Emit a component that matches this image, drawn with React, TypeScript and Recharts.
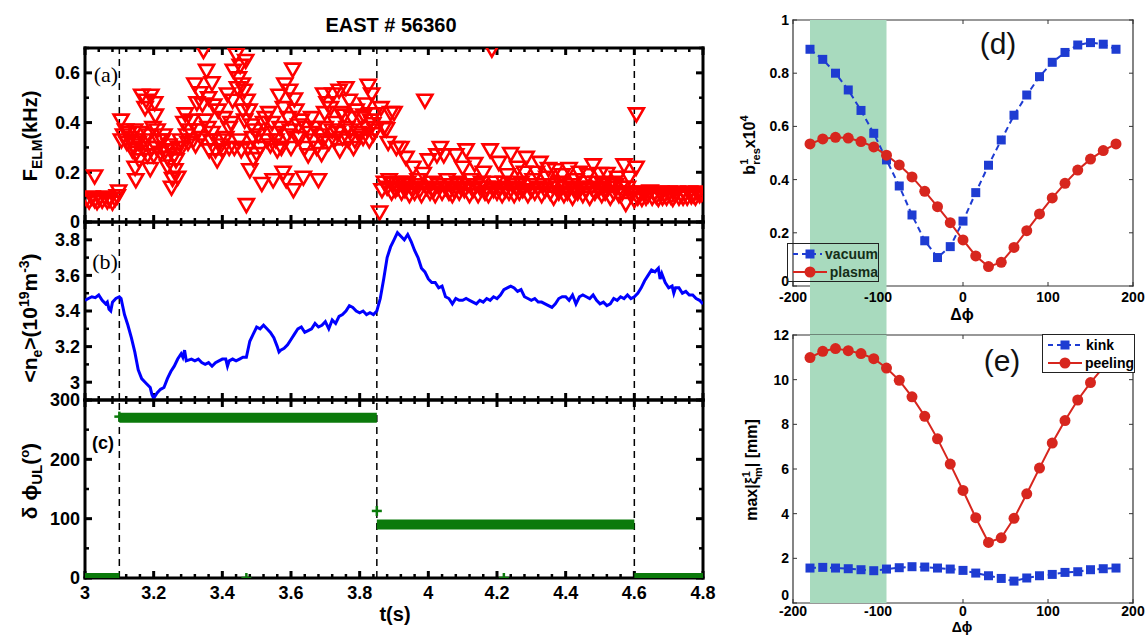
import React from 'react';
import {
  ScatterChart,
  Scatter,
  LineChart,
  Line,
  XAxis,
  YAxis,
  ReferenceLine,
  ReferenceArea,
  ReferenceDot,
  Legend,
} from 'recharts';

const FONT = '"Liberation Sans", Arial, "DejaVu Sans", sans-serif';
const BAND = '#a8dabe';
const RED = '#d7261e';
const BLUE = '#1e3cd2';
const GREEN = '#0b7a0b';

// (a) ELM frequency in kHz, one triangle per ELM: [t (s), f (kHz)]
const elmPoints: [number, number][] = [
  [3.005, 0.095], [3.012, 0.085], [3.02, 0.1], [3.028, 0.09], [3.035, 0.082], [3.042, 0.095], [3.05, 0.088],
  [3.058, 0.1], [3.065, 0.085], [3.072, 0.092], [3.08, 0.08], [3.088, 0.095], [3.094, 0.105], [3.028, 0.185], [3.098, 0.125],
  [3.105, 0.41], [3.106, 0.33], [3.112, 0.35], [3.118, 0.37], [3.122, 0.32], [3.128, 0.36], [3.134, 0.34], [3.14, 0.31],
  [3.145, 0.37], [3.15, 0.28], [3.152, 0.33], [3.158, 0.25], [3.16, 0.36], [3.165, 0.51], [3.168, 0.3], [3.172, 0.33],
  [3.175, 0.46], [3.178, 0.49], [3.182, 0.27], [3.185, 0.35], [3.19, 0.215], [3.192, 0.51], [3.195, 0.3], [3.198, 0.38],
  [3.2, 0.27], [3.203, 0.48], [3.205, 0.43], [3.146, 0.22], [3.148, 0.17], [3.155, 0.32], [3.138, 0.29],
  [3.208, 0.3], [3.21, 0.37], [3.215, 0.33], [3.22, 0.28], [3.225, 0.33], [3.23, 0.35], [3.235, 0.29], [3.24, 0.26],
  [3.245, 0.31], [3.25, 0.29], [3.252, 0.14], [3.255, 0.175], [3.26, 0.27], [3.265, 0.25], [3.27, 0.18], [3.272, 0.3],
  [3.278, 0.33], [3.282, 0.3], [3.288, 0.4], [3.292, 0.435], [3.296, 0.35], [3.3, 0.32], [3.24, 0.225], [3.262, 0.21],
  [3.305, 0.37], [3.31, 0.41], [3.315, 0.33], [3.32, 0.555], [3.322, 0.31], [3.326, 0.48], [3.33, 0.37], [3.335, 0.52],
  [3.338, 0.34], [3.342, 0.475], [3.345, 0.69], [3.35, 0.41], [3.354, 0.61], [3.358, 0.38], [3.362, 0.29], [3.366, 0.33],
  [3.37, 0.36], [3.375, 0.47], [3.38, 0.29], [3.385, 0.25], [3.388, 0.45], [3.392, 0.33], [3.396, 0.31], [3.4, 0.29],
  [3.37, 0.56], [3.36, 0.5],
  [3.405, 0.42], [3.41, 0.34], [3.415, 0.515], [3.42, 0.38], [3.425, 0.4], [3.43, 0.49], [3.432, 0.61], [3.435, 0.3],
  [3.44, 0.675], [3.444, 0.54], [3.447, 0.58], [3.45, 0.33], [3.452, 0.63], [3.455, 0.29], [3.458, 0.555], [3.46, 0.45],
  [3.464, 0.53], [3.468, 0.65], [3.47, 0.07], [3.472, 0.49], [3.475, 0.3], [3.478, 0.45], [3.48, 0.21], [3.485, 0.39],
  [3.49, 0.255], [3.495, 0.37], [3.5, 0.275], [3.42, 0.3], [3.465, 0.41], [3.488, 0.34],
  [3.505, 0.35], [3.51, 0.3], [3.515, 0.155], [3.52, 0.4], [3.525, 0.42], [3.53, 0.33], [3.535, 0.44], [3.54, 0.31],
  [3.545, 0.4], [3.548, 0.17], [3.552, 0.36], [3.556, 0.33], [3.56, 0.29], [3.565, 0.51], [3.568, 0.38], [3.572, 0.3],
  [3.577, 0.2], [3.578, 0.46], [3.582, 0.555], [3.586, 0.17], [3.588, 0.35], [3.592, 0.42], [3.596, 0.53], [3.598, 0.37],
  [3.6, 0.3],
  [3.605, 0.615], [3.607, 0.13], [3.61, 0.495], [3.614, 0.45], [3.618, 0.34], [3.622, 0.39], [3.626, 0.34], [3.63, 0.41],
  [3.636, 0.18], [3.64, 0.3], [3.645, 0.38], [3.65, 0.27], [3.655, 0.36], [3.66, 0.42], [3.665, 0.33], [3.67, 0.38],
  [3.675, 0.3], [3.68, 0.17], [3.684, 0.35], [3.689, 0.275], [3.693, 0.33], [3.695, 0.515], [3.698, 0.44], [3.7, 0.38],
  [3.705, 0.48], [3.71, 0.32], [3.715, 0.46], [3.72, 0.37], [3.722, 0.515], [3.726, 0.33], [3.73, 0.4], [3.735, 0.36],
  [3.74, 0.53], [3.742, 0.29], [3.746, 0.44], [3.75, 0.34], [3.755, 0.43], [3.76, 0.54], [3.763, 0.38], [3.767, 0.33],
  [3.77, 0.49], [3.773, 0.37], [3.778, 0.42], [3.782, 0.3], [3.786, 0.33], [3.79, 0.45], [3.795, 0.36], [3.8, 0.35],
  [3.805, 0.42], [3.81, 0.34], [3.812, 0.43], [3.818, 0.475], [3.82, 0.38], [3.825, 0.55], [3.828, 0.33], [3.832, 0.41],
  [3.835, 0.515], [3.838, 0.395], [3.84, 0.355], [3.843, 0.435], [3.845, 0.37], [3.858, 0.04],
  [3.862, 0.46], [3.865, 0.13], [3.87, 0.38], [3.872, 0.16], [3.878, 0.375], [3.88, 0.14], [3.883, 0.32], [3.886, 0.17],
  [3.89, 0.44], [3.893, 0.12], [3.898, 0.155], [3.9, 0.44], [3.904, 0.13], [3.907, 0.3], [3.91, 0.14], [3.915, 0.16],
  [3.92, 0.3], [3.922, 0.12], [3.928, 0.15], [3.932, 0.13], [3.935, 0.26], [3.94, 0.16], [3.945, 0.11], [3.95, 0.14],
  [3.955, 0.22], [3.96, 0.12],
  [3.965, 0.15], [3.97, 0.17], [3.975, 0.13], [3.98, 0.11], [3.985, 0.195], [3.99, 0.49], [3.995, 0.14], [4.0, 0.25],
  [4.005, 0.12], [4.01, 0.16], [4.015, 0.13], [4.02, 0.11], [4.025, 0.27], [4.03, 0.15], [4.035, 0.3], [4.04, 0.12],
  [4.045, 0.27], [4.05, 0.14], [4.055, 0.17], [4.06, 0.12], [4.065, 0.15], [4.07, 0.11], [4.075, 0.13], [4.08, 0.27],
  [4.085, 0.16], [4.09, 0.12], [4.095, 0.14], [4.1, 0.22], [4.105, 0.13], [4.11, 0.29], [4.115, 0.15], [4.12, 0.11],
  [4.125, 0.17], [4.13, 0.13], [4.135, 0.235], [4.14, 0.15], [4.145, 0.11], [4.15, 0.14], [4.155, 0.16], [4.16, 0.2],
  [4.165, 0.12], [4.17, 0.14], [4.175, 0.11], [4.18, 0.29], [4.185, 0.695], [4.19, 0.13], [4.195, 0.16], [4.2, 0.12],
  [4.205, 0.24], [4.21, 0.14], [4.215, 0.11], [4.22, 0.16], [4.225, 0.13], [4.23, 0.19], [4.235, 0.12], [4.24, 0.275],
  [4.245, 0.15], [4.25, 0.11], [4.255, 0.14], [4.26, 0.22], [4.265, 0.12], [4.27, 0.16], [4.275, 0.13], [4.28, 0.2],
  [4.285, 0.26], [4.29, 0.11], [4.295, 0.15], [4.3, 0.13], [4.305, 0.17], [4.31, 0.12], [4.315, 0.2], [4.32, 0.14],
  [4.325, 0.24], [4.33, 0.11], [4.335, 0.15], [4.34, 0.13], [4.345, 0.18], [4.35, 0.215], [4.355, 0.12], [4.36, 0.15],
  [4.365, 0.1], [4.37, 0.21], [4.375, 0.14], [4.38, 0.12], [4.385, 0.16], [4.39, 0.19], [4.395, 0.11], [4.4, 0.14],
  [4.405, 0.12], [4.41, 0.215], [4.415, 0.15], [4.42, 0.1], [4.425, 0.13], [4.43, 0.17], [4.435, 0.12], [4.44, 0.2],
  [4.445, 0.14], [4.45, 0.11], [4.455, 0.16], [4.46, 0.13], [4.465, 0.19], [4.47, 0.1], [4.475, 0.14], [4.48, 0.23],
  [4.485, 0.12], [4.49, 0.16], [4.495, 0.13], [4.5, 0.195], [4.505, 0.11], [4.51, 0.15], [4.515, 0.12], [4.52, 0.195],
  [4.525, 0.14], [4.53, 0.1], [4.535, 0.16], [4.54, 0.12], [4.545, 0.15], [4.55, 0.18], [4.555, 0.11], [4.56, 0.14],
  [4.565, 0.12], [4.57, 0.23], [4.575, 0.075], [4.58, 0.14], [4.585, 0.18], [4.59, 0.11], [4.595, 0.12], [4.6, 0.09],
  [4.605, 0.22], [4.606, 0.435],
  [4.61, 0.1], [4.616, 0.11], [4.622, 0.095], [4.628, 0.12], [4.634, 0.1], [4.64, 0.11], [4.646, 0.125], [4.652, 0.1],
  [4.658, 0.115], [4.664, 0.105], [4.67, 0.095], [4.676, 0.12], [4.682, 0.1], [4.688, 0.11], [4.694, 0.1], [4.7, 0.12],
  [4.706, 0.105], [4.712, 0.095], [4.718, 0.11], [4.724, 0.12], [4.73, 0.1], [4.736, 0.11], [4.742, 0.1], [4.748, 0.115],
  [4.754, 0.1], [4.76, 0.12], [4.766, 0.105], [4.772, 0.11], [4.778, 0.1], [4.784, 0.12], [4.79, 0.11], [4.796, 0.115],
];

// (b) line-averaged density, 1e19 m^-3: [t (s), <ne>]
const densityTrace: [number, number][] = [
  [3.0, 3.46], [3.01, 3.47], [3.02, 3.48], [3.03, 3.475], [3.04, 3.49], [3.05, 3.46], [3.06, 3.44], [3.065, 3.45],
  [3.07, 3.41], [3.075, 3.4], [3.08, 3.45], [3.09, 3.47], [3.1, 3.48], [3.105, 3.47], [3.115, 3.38], [3.125, 3.32],
  [3.135, 3.25], [3.145, 3.17], [3.155, 3.07], [3.165, 3.02], [3.175, 3.0], [3.185, 2.98], [3.19, 2.97], [3.195, 2.93],
  [3.2, 2.91], [3.21, 2.94], [3.22, 2.96], [3.23, 2.97], [3.24, 3.02], [3.25, 3.06], [3.26, 3.09], [3.27, 3.13],
  [3.28, 3.16], [3.285, 3.14], [3.29, 3.18], [3.295, 3.12], [3.31, 3.13], [3.32, 3.12], [3.33, 3.13], [3.34, 3.11],
  [3.35, 3.1], [3.36, 3.11], [3.37, 3.09], [3.38, 3.11], [3.39, 3.12], [3.4, 3.13], [3.41, 3.13], [3.415, 3.09],
  [3.42, 3.12], [3.43, 3.13], [3.44, 3.12], [3.45, 3.13], [3.46, 3.14], [3.47, 3.14], [3.48, 3.23], [3.49, 3.27],
  [3.5, 3.31], [3.51, 3.3], [3.52, 3.32], [3.53, 3.3], [3.54, 3.28], [3.55, 3.25], [3.56, 3.2], [3.565, 3.17],
  [3.57, 3.18], [3.58, 3.19], [3.59, 3.21], [3.6, 3.24], [3.61, 3.27], [3.62, 3.3], [3.63, 3.31], [3.64, 3.28],
  [3.65, 3.29], [3.66, 3.3], [3.67, 3.33], [3.68, 3.31], [3.69, 3.32], [3.7, 3.34], [3.71, 3.3], [3.72, 3.35],
  [3.73, 3.33], [3.74, 3.37], [3.75, 3.38], [3.76, 3.4], [3.77, 3.43], [3.78, 3.42], [3.79, 3.4], [3.8, 3.39],
  [3.81, 3.4], [3.82, 3.38], [3.83, 3.39], [3.84, 3.38], [3.85, 3.4], [3.86, 3.47], [3.87, 3.58], [3.88, 3.7],
  [3.89, 3.76], [3.9, 3.8], [3.91, 3.84], [3.92, 3.82], [3.93, 3.8], [3.94, 3.83], [3.95, 3.79], [3.96, 3.74],
  [3.97, 3.7], [3.98, 3.64], [3.99, 3.62], [4.0, 3.58], [4.01, 3.56], [4.02, 3.56], [4.03, 3.53], [4.04, 3.54],
  [4.05, 3.48], [4.06, 3.47], [4.07, 3.44], [4.08, 3.47], [4.09, 3.46], [4.1, 3.46], [4.11, 3.47], [4.12, 3.46],
  [4.13, 3.45], [4.14, 3.44], [4.15, 3.46], [4.16, 3.45], [4.17, 3.47], [4.18, 3.46], [4.19, 3.48], [4.2, 3.47],
  [4.21, 3.49], [4.22, 3.52], [4.23, 3.53], [4.24, 3.54], [4.25, 3.53], [4.26, 3.51], [4.27, 3.52], [4.28, 3.48],
  [4.29, 3.47], [4.3, 3.46], [4.31, 3.47], [4.32, 3.45], [4.33, 3.45], [4.34, 3.44], [4.35, 3.43], [4.36, 3.42],
  [4.37, 3.44], [4.38, 3.47], [4.39, 3.48], [4.4, 3.48], [4.41, 3.46], [4.42, 3.49], [4.43, 3.44], [4.44, 3.48],
  [4.45, 3.49], [4.46, 3.48], [4.47, 3.47], [4.48, 3.49], [4.49, 3.46], [4.5, 3.44], [4.51, 3.45], [4.52, 3.43],
  [4.53, 3.44], [4.54, 3.47], [4.55, 3.46], [4.56, 3.48], [4.57, 3.47], [4.58, 3.49], [4.59, 3.47], [4.6, 3.48],
  [4.61, 3.5], [4.62, 3.53], [4.63, 3.57], [4.64, 3.6], [4.65, 3.63], [4.66, 3.62], [4.67, 3.64], [4.675, 3.58],
  [4.68, 3.61], [4.69, 3.56], [4.7, 3.53], [4.71, 3.54], [4.715, 3.5], [4.72, 3.53], [4.73, 3.53], [4.74, 3.5],
  [4.75, 3.51], [4.76, 3.49], [4.77, 3.49], [4.78, 3.47], [4.79, 3.46], [4.8, 3.44],
];

// (c) upper/lower coil phase difference (deg), piecewise constant
const switchTimes = [3.0, 3.1, 3.85, 4.6, 4.8];
const phaseLevels = [0, 270, 90, 0];
const phaseStray: [number, number][] = [[3.1, 272], [3.47, 0], [4.22, 0], [3.85, 113]];
const markerTimes = [3.1, 3.85, 4.6];

// (d), (e) scans over the coil phase difference
const dphi = [-180, -165, -150, -135, -120, -105, -90, -75, -60, -45, -30, -15, 0, 15, 30, 45, 60, 75, 90, 105, 120, 135, 150, 165, 180];
const vacuumRes = [0.89, 0.852, 0.8, 0.737, 0.66, 0.574, 0.474, 0.376, 0.267, 0.17, 0.107, 0.148, 0.244, 0.351, 0.454, 0.549, 0.642, 0.718, 0.787, 0.841, 0.878, 0.906, 0.915, 0.909, 0.89];
const plasmaRes = [0.534, 0.553, 0.559, 0.556, 0.543, 0.523, 0.492, 0.455, 0.41, 0.356, 0.298, 0.238, 0.173, 0.113, 0.073, 0.089, 0.145, 0.208, 0.271, 0.331, 0.386, 0.436, 0.477, 0.509, 0.534];
const kinkDisp = [1.565, 1.595, 1.565, 1.535, 1.49, 1.446, 1.52, 1.58, 1.625, 1.61, 1.565, 1.52, 1.46, 1.34, 1.22, 1.1, 0.98, 1.12, 1.22, 1.28, 1.37, 1.4, 1.49, 1.535, 1.565];
const peelingDisp = [10.99, 11.27, 11.39, 11.3, 11.17, 10.94, 10.52, 9.97, 9.23, 8.36, 7.35, 6.22, 5.04, 3.82, 2.71, 2.92, 3.79, 4.89, 6.04, 7.16, 8.17, 9.09, 9.87, 10.55, 11.0];
const bandRange = [-180, -90];
const namesD = ['vacuum', 'plasma'];
const namesE = ['kink', 'peeling'];

const elmData = elmPoints.map(([t, f]) => ({ t, f }));
const densityData = densityTrace.map(([t, v]) => ({ t, v }));
const phaseSegments = phaseLevels.map((v, i) => [
  { t: switchTimes[i], v },
  { t: switchTimes[i + 1], v },
]);
const strayData = phaseStray.map(([t, v]) => ({ t, v }));
const dData = dphi.map((phi, i) => ({ phi, vac: vacuumRes[i], pla: plasmaRes[i] }));
const eData = dphi.map((phi, i) => ({ phi, kink: kinkDisp[i], peel: peelingDisp[i] }));

const seq = (a: number, b: number, s: number) =>
  Array.from({ length: Math.round((b - a) / s) + 1 }, (_, i) => +(a + i * s).toFixed(3));
const onGrid = (v: number, s: number) => Math.abs(v / s - Math.round(v / s)) < 1e-6;
const fmt = (v: number) => String(+v.toFixed(2));

const TIME_DOM: [number, number] = [3, 4.8];
const PHI_DOM: [number, number] = [-200, 200];
const timeTicks = seq(3, 4.8, 0.04);
const phiTicks = [-200, -100, 0, 100, 200];

// tick labels only; the marks themselves are drawn by frameTicks()
const labelTick = (
  side: 'bottom' | 'left',
  show: (v: number) => boolean,
  size: number,
  gap: number,
  lift: (v: number) => number = () => 0,
) => (p: any) => {
  const { x, y, payload } = p;
  const v = payload.value as number;
  if (!show(v)) return <g />;
  return side === 'bottom' ? (
    <text x={x} y={y + gap} textAnchor="middle" fontFamily={FONT} fontWeight="bold" fontSize={size} fill="#000">{fmt(v)}</text>
  ) : (
    <text x={x - gap} y={y + size * 0.36 - lift(v)} textAnchor="end" fontFamily={FONT} fontWeight="bold" fontSize={size} fill="#000">{fmt(v)}</text>
  );
};

interface FrameCfg {
  xDom: [number, number];
  yDom: [number, number];
  xTicks: number[];
  yTicks: number[];
  xMajor: (v: number) => boolean;
  yMajor: (v: number) => boolean;
  len: [number, number];
  w: [number, number];
  color: string;
  frameW: number;
}

// box frame with inward ticks on all four sides (matlab "box on")
function frameTicks(o: FrameCfg) {
  const out: React.ReactElement[] = [];
  const mark = (key: string, x: number, y: number, dx: number, dy: number, sw: number) => (
    <ReferenceDot
      key={key}
      x={x}
      y={y}
      ifOverflow="visible"
      zIndex={0}
      shape={(p: any) => <line x1={p.cx} y1={p.cy} x2={p.cx + dx} y2={p.cy + dy} stroke={o.color} strokeWidth={sw} />}
    />
  );
  const edge = { stroke: o.color, strokeWidth: o.frameW, strokeLinecap: 'square' as const, ifOverflow: 'visible' as const, zIndex: 0 };
  out.push(<ReferenceLine key="fl" x={o.xDom[0]} {...edge} />);
  out.push(<ReferenceLine key="fr" x={o.xDom[1]} {...edge} />);
  out.push(<ReferenceLine key="fb" y={o.yDom[0]} {...edge} />);
  out.push(<ReferenceLine key="ft" y={o.yDom[1]} {...edge} />);
  o.xTicks.forEach((v) => {
    const big = o.xMajor(v);
    const L = big ? o.len[0] : o.len[1];
    const sw = big ? o.w[0] : o.w[1];
    out.push(mark('b' + v, v, o.yDom[0], 0, -L, sw));
    out.push(mark('t' + v, v, o.yDom[1], 0, L, sw));
  });
  o.yTicks.forEach((v) => {
    const big = o.yMajor(v);
    const L = big ? o.len[0] : o.len[1];
    const sw = big ? o.w[0] : o.w[1];
    out.push(mark('l' + v, o.xDom[0], v, L, 0, sw));
    out.push(mark('r' + v, o.xDom[1], v, -L, 0, sw));
  });
  return out;
}

const xMajorTime = (v: number) => onGrid(v, 0.2);

function leftAxes(yKey: string | undefined, yDom: [number, number], yTicks: number[], yMajor: (v: number) => boolean, withTime: boolean) {
  return [
    <XAxis key="xb" dataKey="t" type="number" domain={TIME_DOM} ticks={timeTicks} interval={0} hide={!withTime}
      height={30} tickSize={0} tickMargin={0} axisLine={false} tickLine={false} allowDataOverflow
      tick={labelTick('bottom', xMajorTime, 18, 21)} />,
    <YAxis key="yl" dataKey={yKey} type="number" domain={yDom} ticks={yTicks} interval={0} width={60}
      tickSize={0} tickMargin={0} axisLine={false} tickLine={false} allowDataOverflow
      tick={labelTick('left', yMajor, 18, 5)} />,
    ...frameTicks({
      xDom: TIME_DOM, yDom, xTicks: timeTicks, yTicks, xMajor: xMajorTime, yMajor,
      len: [7, 4], w: [3, 2.5], color: '#000', frameW: 3,
    }),
  ];
}

function rightAxes(yDom: [number, number], yTicks: number[], xGap: number, zeroLift: number) {
  const all = () => true;
  const liftBottom = (v: number) => (v === yDom[0] ? zeroLift : 0);
  return [
    <XAxis key="xb" dataKey="phi" type="number" domain={PHI_DOM} ticks={phiTicks} interval={0} height={30}
      tickSize={0} tickMargin={0} axisLine={false} tickLine={false} allowDataOverflow
      tick={labelTick('bottom', all, 14, xGap)} />,
    <YAxis key="yl" type="number" domain={yDom} ticks={yTicks} interval={0} width={60}
      tickSize={0} tickMargin={0} axisLine={false} tickLine={false} allowDataOverflow
      tick={labelTick('left', all, 14, 4, liftBottom)} />,
    ...frameTicks({
      xDom: PHI_DOM, yDom, xTicks: phiTicks, yTicks, xMajor: all, yMajor: all,
      len: [4, 4], w: [1, 1], color: '#333', frameW: 1.2,
    }),
  ];
}

const refLines = () =>
  markerTimes.map((t) => (
    <ReferenceLine key={'m' + t} x={t} stroke="#000" strokeWidth={1.5} strokeDasharray="7 5" />
  ));

const DownTri = (p: any) => {
  const { cx, cy } = p;
  if (cx == null || cy == null) return <g />;
  return (
    <path d={`M${cx - 7.5},${cy - 5.5}L${cx + 7.5},${cy - 5.5}L${cx},${cy + 7.5}Z`} fill="none" stroke="#ff0000" strokeWidth={2.6} />
  );
};

const PlusDot = (p: any) => {
  const { cx, cy, index } = p;
  if (cx == null || cy == null) return <g key={index} />;
  return (
    <g key={index}>
      <line x1={cx - 5} y1={cy} x2={cx + 5} y2={cy} stroke={GREEN} strokeWidth={2.5} />
      <line x1={cx} y1={cy - 5} x2={cx} y2={cy + 5} stroke={GREEN} strokeWidth={2.5} />
    </g>
  );
};

const SquareDot = (p: any) => {
  const { cx, cy, index } = p;
  if (cx == null || cy == null) return <g key={index} />;
  return <rect key={index} x={cx - 4.5} y={cy - 4.5} width={9} height={9} fill={BLUE} />;
};

const RoundDot = (p: any) => {
  const { cx, cy, index } = p;
  if (cx == null || cy == null) return <g key={index} />;
  return <circle key={index} cx={cx} cy={cy} r={5.5} fill={RED} />;
};

function LegendBox({ names, bg, textColor }: { names: string[]; bg: string; textColor: string }) {
  const styles = [
    { color: BLUE, dash: '5 4', shape: 'square' },
    { color: RED, dash: undefined, shape: 'circle' },
  ];
  return (
    <div
      style={{
        boxSizing: 'border-box', width: '100%', height: '100%', border: '1px solid #222', background: bg,
        padding: '1px 0 0 4px', fontFamily: FONT, fontWeight: 'bold', fontSize: 14, color: textColor, whiteSpace: 'nowrap',
      }}
    >
      {names.map((n, i) => (
        <div key={n} style={{ display: 'flex', alignItems: 'center', height: 18 }}>
          <svg width={36} height={14}>
            <line x1={1} y1={7} x2={35} y2={7} stroke={styles[i].color} strokeWidth={2} strokeDasharray={styles[i].dash} />
            {styles[i].shape === 'square' ? (
              <rect x={13.5} y={2.5} width={9} height={9} fill={styles[i].color} />
            ) : (
              <circle cx={18} cy={7} r={5.5} fill={styles[i].color} />
            )}
          </svg>
          <span style={{ marginLeft: 3 }}>{n}</span>
        </div>
      ))}
    </div>
  );
}

export default function App() {
  const txt = { fontFamily: FONT, fontWeight: 'bold' as const, fill: '#000' };
  return (
    <div style={{ position: 'fixed', left: 0, top: 0, width: 1148, height: 635, background: '#fff', overflow: 'hidden' }}>
      <style>{'.recharts-surface{overflow:visible}'}</style>

      {/* (a) */}
      <div style={{ position: 'absolute', left: 0, top: 40 }}>
        <ScatterChart width={720} height={190} margin={{ top: 8, right: 17, bottom: 8, left: 25 }}>
          {leftAxes('f', [0, 0.7], seq(0, 0.7, 0.1), (v) => onGrid(v, 0.2), false)}
          {refLines()}
          <Scatter data={elmData} shape={DownTri} isAnimationActive={false} />
        </ScatterChart>
      </div>

      {/* (b) */}
      <div style={{ position: 'absolute', left: 0, top: 214 }}>
        <LineChart width={720} height={194} margin={{ top: 8, right: 17, bottom: 8, left: 25 }}>
          {leftAxes(undefined, [2.9, 3.9], seq(2.9, 3.9, 0.1), (v) => onGrid(v, 0.2) && v > 2.95 && v < 3.85, false)}
          {refLines()}
          <Line data={densityData} dataKey="v" type="linear" stroke="#0000ff" strokeWidth={3} dot={false} isAnimationActive={false} />
        </LineChart>
      </div>

      {/* (c) */}
      <div style={{ position: 'absolute', left: 0, top: 392 }}>
        <LineChart width={720} height={216} margin={{ top: 8, right: 17, bottom: 0, left: 25 }}>
          {leftAxes(undefined, [0, 300], seq(0, 300, 50), (v) => onGrid(v, 100), true)}
          {refLines()}
          {phaseSegments.map((seg, i) => (
            <Line key={i} data={seg} dataKey="v" type="linear" stroke={GREEN} strokeWidth={10} dot={false} isAnimationActive={false} />
          ))}
          <Line data={strayData} dataKey="v" stroke="none" dot={PlusDot} isAnimationActive={false} />
        </LineChart>
      </div>

      {/* (d) */}
      <div style={{ position: 'absolute', left: 733, top: 0 }}>
        <LineChart width={415} height={316} data={dData} margin={{ top: 20, right: 15, bottom: 0, left: 0 }}>
          <ReferenceArea x1={bandRange[0]} x2={bandRange[1]} y1={-0.2} y2={1} ifOverflow="visible" fill={BAND} fillOpacity={1} stroke="none" />
          {rightAxes([0, 1], seq(0, 1, 0.2), 16, 5)}
          <Line dataKey="vac" name={namesD[0]} stroke={BLUE} strokeWidth={2} strokeDasharray="6 4" dot={SquareDot} isAnimationActive={false} />
          <Line dataKey="pla" name={namesD[1]} stroke={RED} strokeWidth={2} dot={RoundDot} isAnimationActive={false} />
          <Legend layout="horizontal" verticalAlign="middle" align="center"
            wrapperStyle={{ left: 54, top: 243, width: 92, height: 39 }}
            content={() => <LegendBox names={namesD} bg="transparent" textColor="#142e18" />} />
        </LineChart>
      </div>

      {/* (e) */}
      <div style={{ position: 'absolute', left: 733, top: 327 }}>
        <LineChart width={415} height={306} data={eData} margin={{ top: 8, right: 15, bottom: 0, left: 0 }}>
          <ReferenceArea x1={bandRange[0]} x2={bandRange[1]} y1={0} y2={12} fill={BAND} fillOpacity={1} stroke="none" />
          {rightAxes([0, 12], seq(0, 12, 2), 13, 8)}
          <Line dataKey="kink" name={namesE[0]} stroke={BLUE} strokeWidth={2} strokeDasharray="6 4" dot={SquareDot} isAnimationActive={false} />
          <Line dataKey="peel" name={namesE[1]} stroke={RED} strokeWidth={2} dot={RoundDot} isAnimationActive={false} />
          <Legend layout="horizontal" verticalAlign="middle" align="center"
            wrapperStyle={{ left: 309, top: 7, width: 93, height: 39 }}
            content={() => <LegendBox names={namesE} bg="#fff" textColor="#000" />} />
        </LineChart>
      </div>

      {/* titles, axis names, panel tags */}
      <svg width={1148} height={635} style={{ position: 'absolute', left: 0, top: 0, pointerEvents: 'none' }}>
        <text x={391} y={32} textAnchor="middle" fontSize={20} {...txt}>EAST # 56360</text>
        <text x={106} y={82} textAnchor="middle" fontSize={22} fontFamily='"Liberation Serif", serif'>(a)</text>
        <text x={105} y={269} textAnchor="middle" fontSize={22} fontFamily='"Liberation Serif", serif'>(b)</text>
        <text x={103} y={449} textAnchor="middle" fontSize={18} {...txt}>(c)</text>
        <text x={395} y={621} textAnchor="middle" fontSize={20} {...txt}>t(s)</text>

        <text transform="translate(37,136) rotate(-90)" textAnchor="middle" fontSize={20} {...txt}>
          F<tspan fontSize={14} dy={5}>ELM</tspan><tspan dy={-5}>(kHz)</tspan>
        </text>
        <text transform="translate(37,318) rotate(-90)" textAnchor="middle" fontSize={21} {...txt}>
          {'<n'}<tspan fontSize={14} dy={5}>e</tspan><tspan dy={-5}>{'>(10'}</tspan>
          <tspan fontSize={14} dy={-8}>19</tspan><tspan dy={8}>m</tspan>
          <tspan fontSize={14} dy={-8}>-3</tspan><tspan dy={8}>)</tspan>
        </text>
        <text transform="translate(37,481) rotate(-90)" textAnchor="middle" fontSize={21} {...txt}>
          δ ϕ<tspan fontSize={15} dy={5}>UL</tspan><tspan dy={-5}>(</tspan>
          <tspan fontSize={13} dy={-8}>o</tspan><tspan dy={8}>)</tspan>
        </text>

        <text x={998} y={54} textAnchor="middle" fontSize={30} fontFamily={FONT} fill="#111">(d)</text>
        <text x={1002} y={371} textAnchor="middle" fontSize={30} fontFamily={FONT} fill="#111">(e)</text>
        <text x={962} y={320} textAnchor="middle" fontSize={16} {...txt}>Δϕ</text>
        <text x={962} y={632} textAnchor="middle" fontSize={14} {...txt}>Δϕ</text>

        <text transform="translate(755,145) rotate(-90)" textAnchor="middle" fontSize={16} {...txt}>
          b<tspan fontSize={11} dy={-7}>1</tspan><tspan fontSize={11} dx={-6} dy={12}>res</tspan>
          <tspan dy={-5}>x10</tspan><tspan fontSize={11} dy={-7}>4</tspan>
        </text>
        <text transform="translate(757,470) rotate(-90)" textAnchor="middle" fontSize={16} {...txt}>
          max|ξ<tspan fontSize={11} dy={-7}>1</tspan><tspan fontSize={11} dx={-6} dy={12}>m</tspan>
          <tspan dy={-5}>| [mm]</tspan>
        </text>
      </svg>
    </div>
  );
}
